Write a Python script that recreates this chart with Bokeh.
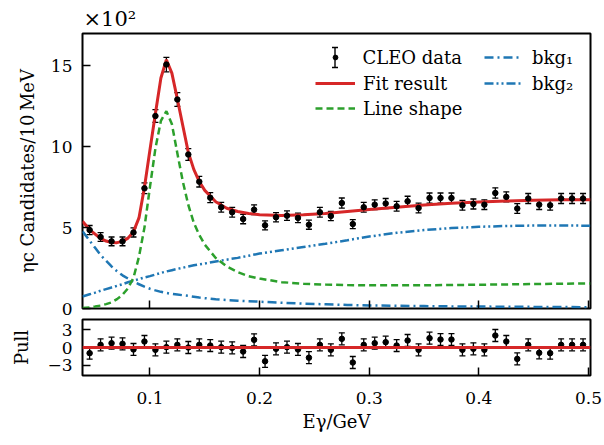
from bokeh.plotting import figure
from bokeh.models import (ColumnDataSource, Whisker, TeeHead, Range1d, FixedTicker,
                          CustomJSTickFormatter, Legend, LegendItem, BoxAnnotation, Span, Title)
from bokeh.layouts import column
from bokeh.embed import file_html
from bokeh.resources import INLINE

# ---------------- data ----------------
# bin centres, GeV
e_gamma = [0.045, 0.055, 0.065, 0.075, 0.085, 0.095, 0.105, 0.115, 0.125, 0.135,
           0.145, 0.155, 0.165, 0.175, 0.185, 0.195, 0.205, 0.215, 0.225, 0.235,
           0.245, 0.255, 0.265, 0.275, 0.285, 0.295, 0.305, 0.315, 0.325, 0.335,
           0.345, 0.355, 0.365, 0.375, 0.385, 0.395, 0.405, 0.415, 0.425, 0.435,
           0.445, 0.455, 0.465, 0.475, 0.485, 0.495]
# CLEO data, candidates / 10 MeV (x 10^2)
cleo_counts = [4.85, 4.42, 4.15, 4.15, 4.70, 7.43, 11.90, 15.08, 12.92, 9.52,
               7.84, 6.85, 6.26, 5.95, 5.53, 6.11, 5.14, 5.64, 5.74, 5.60,
               5.18, 5.95, 5.72, 6.52, 5.22, 6.26, 6.42, 6.49, 6.32, 6.63,
               6.21, 6.83, 6.83, 6.83, 6.38, 6.46, 6.42, 7.14, 6.90, 6.18,
               6.80, 6.42, 6.38, 6.80, 6.80, 6.80]
cleo_errors = [0.28, 0.27, 0.27, 0.27, 0.28, 0.33, 0.40, 0.45, 0.42, 0.36,
               0.33, 0.31, 0.30, 0.30, 0.29, 0.30, 0.28, 0.29, 0.29, 0.29,
               0.28, 0.30, 0.29, 0.31, 0.28, 0.30, 0.30, 0.31, 0.30, 0.31,
               0.30, 0.31, 0.31, 0.31, 0.30, 0.31, 0.30, 0.32, 0.31, 0.30,
               0.31, 0.30, 0.30, 0.31, 0.31, 0.31]
# pulls
pulls = [-0.94, 0.44, 0.72, 0.61, -0.33, 1.00, -0.39, 0.06, 0.44, 0.00,
         0.44, 0.33, 0.06, -0.06, -0.67, 1.28, -2.30, -0.22, 0.06, -0.33,
         -1.70, 0.44, -0.39, 1.44, -2.50, 0.44, 0.72, 0.89, 0.33, 1.17,
         -0.39, 1.56, 1.33, 1.33, -0.39, -0.22, -0.39, 2.00, 1.00, -1.90,
         0.44, -0.89, -0.94, 0.44, 0.44, 0.44]
pull_errors = [1.0] * 46

# model curves sampled along E_gamma (x 10^2)
curve_x = [0.0385, 0.045, 0.05, 0.055, 0.06, 0.065, 0.07, 0.075, 0.08, 0.085,
           0.09, 0.095, 0.1, 0.105, 0.11, 0.115, 0.12, 0.125, 0.13, 0.135,
           0.14, 0.145, 0.15, 0.16, 0.17, 0.18, 0.19, 0.2, 0.22, 0.24,
           0.26, 0.28, 0.3, 0.325, 0.35, 0.375, 0.4, 0.425, 0.45, 0.475, 0.5018]
fit_result = [5.39, 4.87, 4.60, 4.33, 4.17, 4.08, 4.07, 4.15, 4.35, 4.75,
              5.60, 7.50, 9.80, 12.05, 14.25, 15.38, 14.55, 12.95, 11.30, 9.65,
              8.60, 7.85, 7.30, 6.60, 6.20, 6.00, 5.87, 5.80, 5.75, 5.80,
              5.88, 6.00, 6.12, 6.26, 6.40, 6.50, 6.58, 6.64, 6.69, 6.72, 6.73]
line_shape = [0.03, 0.07, 0.12, 0.18, 0.27, 0.38, 0.58, 0.85, 1.25, 1.90,
              3.20, 5.00, 7.50, 9.90, 11.60, 12.20, 11.40, 9.60, 7.85, 6.40,
              5.30, 4.55, 3.95, 3.12, 2.60, 2.25, 2.00, 1.85, 1.63, 1.53,
              1.48, 1.45, 1.43, 1.43, 1.44, 1.45, 1.47, 1.49, 1.51, 1.53, 1.55]
bkg1 = [4.77, 4.20, 3.75, 3.30, 2.95, 2.60, 2.30, 2.05, 1.85, 1.65,
        1.50, 1.35, 1.22, 1.12, 1.03, 0.96, 0.90, 0.86, 0.82, 0.78,
        0.73, 0.68, 0.64, 0.57, 0.52, 0.48, 0.45, 0.42, 0.36, 0.30,
        0.26, 0.22, 0.19, 0.17, 0.15, 0.13, 0.12, 0.11, 0.10, 0.09, 0.08]
bkg2 = [0.74, 0.88, 0.98, 1.10, 1.20, 1.30, 1.40, 1.50, 1.62, 1.72,
        1.82, 1.92, 2.00, 2.10, 2.20, 2.29, 2.37, 2.45, 2.52, 2.60,
        2.67, 2.73, 2.78, 2.91, 3.02, 3.13, 3.26, 3.40, 3.60, 3.80,
        4.00, 4.22, 4.45, 4.68, 4.85, 4.97, 5.05, 5.10, 5.13, 5.13, 5.12]

main_ticks = [0, 5, 10, 15]
pull_ticks = [-3, 0, 3]
x_ticks = [0.1, 0.2, 0.3, 0.4, 0.5]

RED = "#d62728"
GREEN = "#2ca02c"
BLUE = "#1f77b4"
FONT = "DejaVu Serif"

# ---------------- sources ----------------
data_src = ColumnDataSource(dict(
    x=e_gamma, y=cleo_counts,
    lo=[c - e for c, e in zip(cleo_counts, cleo_errors)],
    hi=[c + e for c, e in zip(cleo_counts, cleo_errors)]))
pull_src = ColumnDataSource(dict(
    x=e_gamma, y=pulls,
    lo=[c - e for c, e in zip(pulls, pull_errors)],
    hi=[c + e for c, e in zip(pulls, pull_errors)]))
curve_src = ColumnDataSource(dict(x=curve_x, fit=fit_result, sig=line_shape, b1=bkg1, b2=bkg2))


def style(p):
    p.outline_line_color = "black"
    p.outline_line_width = 2
    p.background_fill_color = "white"
    p.border_fill_color = "white"
    p.grid.visible = False
    for ax in p.axis:
        ax.axis_line_color = None
        ax.major_tick_in = 8
        ax.major_tick_out = 0
        ax.major_tick_line_width = 1.5
        ax.major_tick_line_color = "black"
        ax.minor_tick_line_color = None
        ax.major_label_text_font = FONT
        ax.major_label_text_font_size = "17px"
        ax.major_label_text_color = "black"
        ax.axis_label_text_font = FONT
        ax.axis_label_text_font_size = "18px"
        ax.axis_label_text_font_style = "normal"
        ax.axis_label_text_color = "black"


# ---------------- main panel ----------------
H1 = 318
p1 = figure(width=604, height=H1, x_range=Range1d(0.0385, 0.5018), y_range=Range1d(0, 17),
            output_backend="svg", toolbar_location=None,
            min_border_left=82, min_border_right=14, min_border_top=33, min_border_bottom=10)
p1.title = Title(text="\u00d710\u00b2", align="left", offset=1, standoff=6,
                 text_font=FONT, text_font_size="21px", text_font_style="normal",
                 text_color="black")
style(p1)
p1.yaxis.ticker = FixedTicker(ticks=main_ticks)
p1.yaxis.major_label_standoff = 10
p1.yaxis.axis_label = "\u03b7c Candidates/10\u2009MeV"
p1.yaxis.axis_label_standoff = 10
p1.xaxis.ticker = FixedTicker(ticks=x_ticks)
p1.xaxis.formatter = CustomJSTickFormatter(code="return ''")
p1.xaxis.major_label_standoff = 0
p1.xaxis.major_label_text_font_size = "1px"

r_b1 = p1.line("x", "b1", source=curve_src, color=BLUE, line_width=2.5, line_dash="9 4 2 4")
r_b2 = p1.line("x", "b2", source=curve_src, color=BLUE, line_width=2.5, line_dash="9 3 2 3 2 3")
r_sig = p1.line("x", "sig", source=curve_src, color=GREEN, line_width=2.5, line_dash="7 4")
r_fit = p1.line("x", "fit", source=curve_src, color=RED, line_width=3)

p1.add_layout(Whisker(source=data_src, base="x", upper="hi", lower="lo", dimension="height",
                      line_color="black", line_width=1.3,
                      upper_head=TeeHead(size=6, line_color="black", line_width=1.3),
                      lower_head=TeeHead(size=6, line_color="black", line_width=1.3)))
r_dat = p1.scatter("x", "y", source=data_src, size=5.5, color="black")

FB = 308  # canvas y of frame bottom
FL = 82   # canvas x of frame left


def leg(label, rend, cx, cy, gw, standoff):
    L = Legend(items=[LegendItem(label=label, renderers=[rend])],
               location=(cx - FL, FB - cy - 13), glyph_width=gw, glyph_height=26,
               label_height=26, label_standoff=standoff, padding=0, margin=0, spacing=0,
               border_line_color=None, background_fill_alpha=0,
               label_text_font=FONT, label_text_font_size="18px", label_text_color="black")
    p1.add_layout(L)


leg("CLEO data", r_dat, 328.5, 57, 12, 22)
leg("Fit result", r_fit, 315, 83, 40, 8)
leg("Line shape", r_sig, 315, 108, 40, 8)
leg("bkg\u2081", r_b1, 484, 57, 37, 11)
leg("bkg\u2082", r_b2, 484, 83, 37, 11)

ex, ey = 334.5, 57


def sbox(l, r, t, b):
    p1.add_layout(BoxAnnotation(left=l - FL, right=r - FL, top=FB - t, bottom=FB - b,
                                left_units="screen", right_units="screen",
                                top_units="screen", bottom_units="screen",
                                fill_color="black", fill_alpha=1, line_color=None))


sbox(ex - 0.7, ex + 0.7, ey - 10, ey + 10)
sbox(ex - 3, ex + 3, ey - 10.7, ey - 9.3)
sbox(ex - 3, ex + 3, ey + 9.3, ey + 10.7)

# ---------------- pull panel ----------------
p2 = figure(width=604, height=445 - H1, x_range=p1.x_range, y_range=Range1d(-4.67, 4.67),
            output_backend="svg", toolbar_location=None,
            min_border_left=82, min_border_right=14, min_border_top=1, min_border_bottom=70)
style(p2)
p2.yaxis.ticker = FixedTicker(ticks=pull_ticks)
p2.yaxis.formatter = CustomJSTickFormatter(
    code="return tick < 0 ? '\u2212' + Math.abs(tick) : String(tick)")
p2.yaxis.major_label_standoff = 10
p2.yaxis.axis_label = "Pull"
p2.yaxis.axis_label_standoff = 12
p2.xaxis.ticker = FixedTicker(ticks=x_ticks)
p2.xaxis.formatter = CustomJSTickFormatter(code="return tick.toFixed(1)")
p2.xaxis.major_label_standoff = 16
p2.xaxis.axis_label = "E\u03b3/GeV"
p2.xaxis.axis_label_standoff = 4

p2.add_layout(Span(location=0, dimension="width", line_color=RED, line_width=3))
p2.add_layout(Whisker(source=pull_src, base="x", upper="hi", lower="lo", dimension="height",
                      line_color="black", line_width=1.3,
                      upper_head=TeeHead(size=6, line_color="black", line_width=1.3),
                      lower_head=TeeHead(size=6, line_color="black", line_width=1.3)))
p2.scatter("x", "y", source=pull_src, size=5.5, color="black")

layout = column(p1, p2, spacing=0)
open("out.html", "w").write(file_html(layout, INLINE))
